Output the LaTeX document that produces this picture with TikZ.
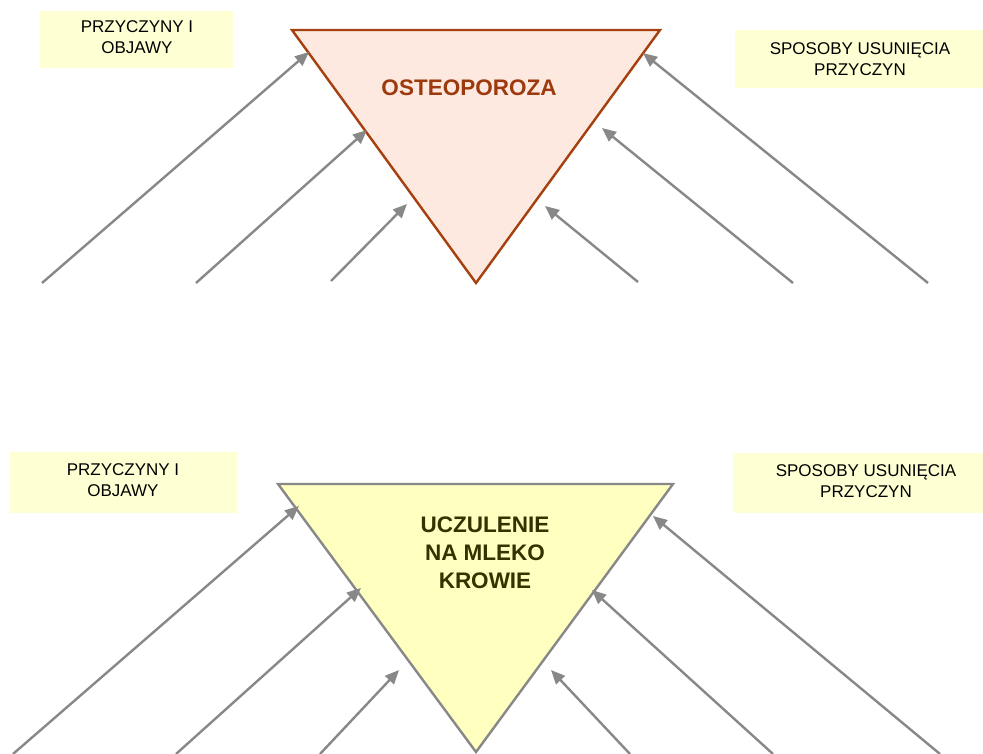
\documentclass[tikz,border=0pt]{standalone}
\usepackage{fontspec}
\setmainfont{Liberation Sans}
\usetikzlibrary{arrows.meta}
\definecolor{peachfill}{HTML}{FDE9E0}
\definecolor{rust}{HTML}{A5400F}
\definecolor{rusttext}{HTML}{9C3A0E}
\definecolor{yelfill}{HTML}{FFFFC0}
\definecolor{boxfill}{HTML}{FFFFD4}
\definecolor{olive}{HTML}{333300}
\definecolor{arrowgray}{HTML}{888888}
\tikzset{
  lbl/.style={font=\fontsize{17}{21}\selectfont, text=black, align=center, inner sep=0pt},
  labelbox/.style={fill=boxfill, draw=none},
  arr/.style={draw=arrowgray, line width=2.4pt, -{Triangle[length=14pt,width=12pt]}},
  title/.style={font=\bfseries\fontsize{22.5}{28}\selectfont, align=center, inner sep=0pt}
}
\begin{document}
\begin{tikzpicture}[x=1pt,y=-1pt]
\useasboundingbox (0,0) rectangle (983,754);
\fill[white] (0,0) rectangle (983,754);
% ---------- top diagram ----------
\fill[labelbox] (40,11) rectangle (233,68);
\fill[labelbox] (735,30) rectangle (983,88);
\node[lbl] (tl) at (137,37) {PRZYCZYNY I\\OBJAWY};
\node[lbl] (tr) at (860,59) {SPOSOBY USUNIĘCIA\\PRZYCZYN};
\coordinate (t1) at (292,30);
\coordinate (t2) at (660,30);
\coordinate (t3) at (476,283);
\draw[fill=peachfill, draw=rust, line width=2.4pt, line join=miter] (t1) -- (t2) -- (t3) -- cycle;
\node[title, text=rusttext] (ttitle) at (469,88) {OSTEOPOROZA};
\coordinate (ta1s) at (42,283);  \coordinate (ta1e) at (309,52);
\coordinate (ta2s) at (196,283); \coordinate (ta2e) at (367,130);
\coordinate (ta3s) at (331,281); \coordinate (ta3e) at (407,204);
\coordinate (ta4s) at (638,282); \coordinate (ta4e) at (545,206);
\coordinate (ta5s) at (793,283); \coordinate (ta5e) at (602,128);
\coordinate (ta6s) at (928,283); \coordinate (ta6e) at (643,53);
\foreach \i in {1,...,6} {\draw[arr] (ta\i s) -- (ta\i e);}
% ---------- bottom diagram ----------
\fill[labelbox] (10,452) rectangle (237,513);
\fill[labelbox] (733,453) rectangle (983,513);
\node[lbl] (bl) at (123,480) {PRZYCZYNY I\\OBJAWY};
\node[lbl] (br) at (866,481) {SPOSOBY USUNIĘCIA\\PRZYCZYN};
\coordinate (b1) at (278,484);
\coordinate (b2) at (673,484);
\coordinate (b3) at (476,752);
\draw[fill=yelfill, draw=arrowgray, line width=2.4pt, line join=miter] (b1) -- (b2) -- (b3) -- cycle;
\node[title, text=olive] (btitle) at (485,553) {UCZULENIE\\NA MLEKO\\KROWIE};
\coordinate (ba1s) at (13,754);  \coordinate (ba1e) at (299,506);
\coordinate (ba2s) at (176,754); \coordinate (ba2e) at (361,588);
\coordinate (ba3s) at (320,754); \coordinate (ba3e) at (399,670);
\coordinate (ba4s) at (630,754); \coordinate (ba4e) at (551,670);
\coordinate (ba5s) at (773,754); \coordinate (ba5e) at (592,590);
\coordinate (ba6s) at (940,754); \coordinate (ba6e) at (653,516);
\foreach \i in {1,...,6} {\draw[arr] (ba\i s) -- (ba\i e);}
\end{tikzpicture}
\end{document}
